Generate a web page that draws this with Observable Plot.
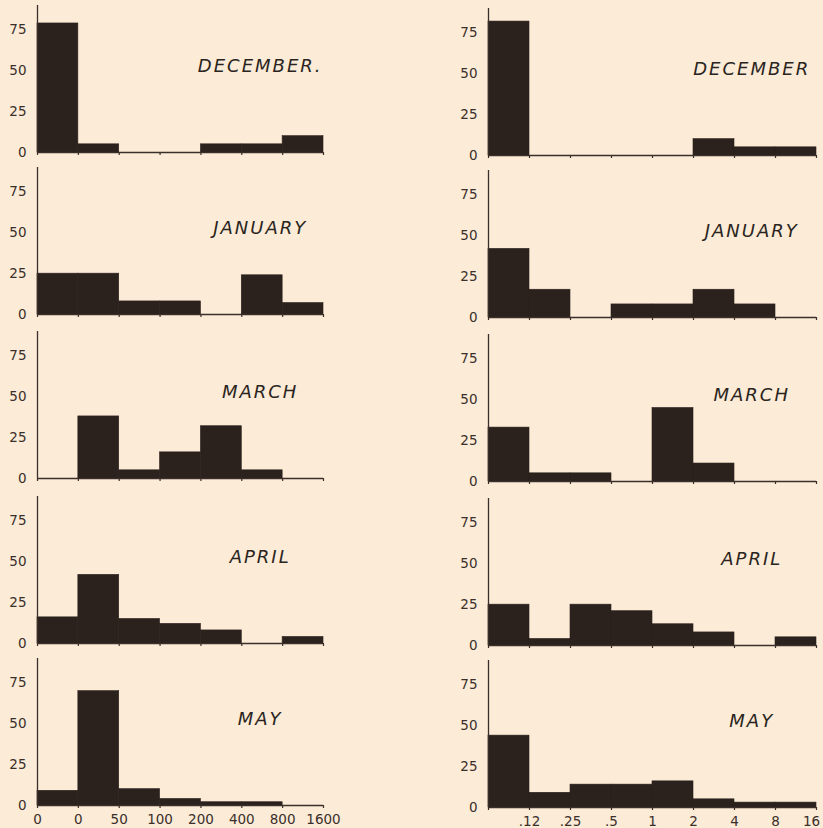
<!DOCTYPE html>
<html>
<head>
<meta charset="utf-8">
<script src="https://cdn.jsdelivr.net/npm/d3@7"></script>
<script src="https://cdn.jsdelivr.net/npm/@observablehq/plot@0.6"></script>
<style>
  html, body { margin: 0; padding: 0; background: #fbebd7; overflow: hidden; }
  #chart { position: relative; width: 823px; height: 828px; background: #fbebd7; }
  #chart svg { position: absolute; }
  [font-style="italic"] { letter-spacing: 2px; }
</style>
</head>
<body>
<div id="chart"></div>
<script>
// ---- data ----
const leftTickLabels = ["0", "0", "50", "100", "200", "400", "800", "1600"];
const rightTickLabels = ["", ".12", ".25", ".5", "1", "2", "4", "8", "16"];
const yTicks = [0, 25, 50, 75];

const leftMonths = ["DECEMBER.", "JANUARY", "MARCH", "APRIL", "MAY"];
const rightMonths = ["DECEMBER", "JANUARY", "MARCH", "APRIL", "MAY"];

const leftDec = [79, 5, 0, 0, 5, 5, 10];
const leftJan = [25, 25, 8, 8, 0, 24, 7];
const leftMar = [0, 38, 5, 16, 32, 5, 0];
const leftApr = [16, 42, 15, 12, 8, 0, 4];
const leftMay = [9, 70, 10, 4, 2, 2, 0];

const rightDec = [82, 0, 0, 0, 0, 10, 5, 5];
const rightJan = [42, 17, 0, 8, 8, 17, 8, 0];
const rightMar = [33, 5, 5, 0, 45, 11, 0, 0];
const rightApr = [25, 4, 25, 21, 13, 8, 0, 5];
const rightMay = [44, 9, 14, 14, 16, 5, 3, 3];

const leftSeries = [leftDec, leftJan, leftMar, leftApr, leftMay];
const rightSeries = [rightDec, rightJan, rightMar, rightApr, rightMay];

// ---- styling ----
const ink = "#3a2f2a";
const barFill = "#2b211d";
const font = "'DejaVu Sans', sans-serif";

function panel(values, tickLabels, month, opts) {
  const n = values.length;
  const marks = [
    Plot.rectY(values, { x1: (d, i) => i, x2: (d, i) => i + 1, y: d => d, fill: barFill, stroke: barFill, strokeWidth: 0.6 }),
    Plot.ruleY([0], { stroke: ink, strokeWidth: 1.3 }),
    Plot.ruleX([0], { stroke: ink, strokeWidth: 1.3 }),
    Plot.axisX({
      ticks: d3.range(n + 1), tickSize: 3, tickPadding: 6, label: null,
      stroke: ink, strokeWidth: 1.2,
      tickFormat: i => (opts.bottom && !(opts.shiftLast && i === n)) ? tickLabels[i] : ""
    }),
    Plot.axisY({ ticks: yTicks, tickSize: 0, tickPadding: 11, label: null }),
    Plot.text([month], {
      x: opts.labelX, y: 53, text: d => d,
      fontStyle: "italic", fontSize: 18, fill: "#2a2420", fontFamily: font
    })
  ];
  if (opts.bottom && opts.shiftLast) {
    marks.push(Plot.axisX({
      ticks: [n], tickSize: 0, tickPadding: 9, dx: -5, label: null,
      tickFormat: i => tickLabels[i]
    }));
  }
  return Plot.plot({
    width: opts.width,
    height: opts.height,
    marginTop: 5,
    marginBottom: opts.marginBottom,
    marginLeft: opts.marginLeft,
    marginRight: opts.marginRight,
    style: { background: "transparent", color: ink, fontFamily: font, fontSize: "13.5px", overflow: "visible" },
    x: { domain: [0, n], axis: null },
    y: { domain: [0, 90], axis: null },
    marks
  });
}

const chart = document.getElementById("chart");
const leftTops = [0, 162, 326, 491, 653];
const rightTops = [3, 165, 329, 493, 655];

leftSeries.forEach((vals, k) => {
  const bottom = k === 4;
  const svg = panel(vals, leftTickLabels, leftMonths[k], {
    width: 411, height: bottom ? 175 : 163, marginBottom: bottom ? 23 : 11,
    marginLeft: 37, marginRight: 88, bottom, labelX: 5.45
  });
  svg.style.left = "0px";
  svg.style.top = leftTops[k] + "px";
  chart.appendChild(svg);
});

rightSeries.forEach((vals, k) => {
  const bottom = k === 4;
  const svg = panel(vals, rightTickLabels, rightMonths[k], {
    width: 412, height: bottom ? 173 : 163, marginBottom: bottom ? 21 : 11,
    marginLeft: 77, marginRight: 7, bottom, labelX: 6.42, shiftLast: true
  });
  svg.style.left = "411px";
  svg.style.top = rightTops[k] + "px";
  chart.appendChild(svg);
});
</script>
</body>
</html>
